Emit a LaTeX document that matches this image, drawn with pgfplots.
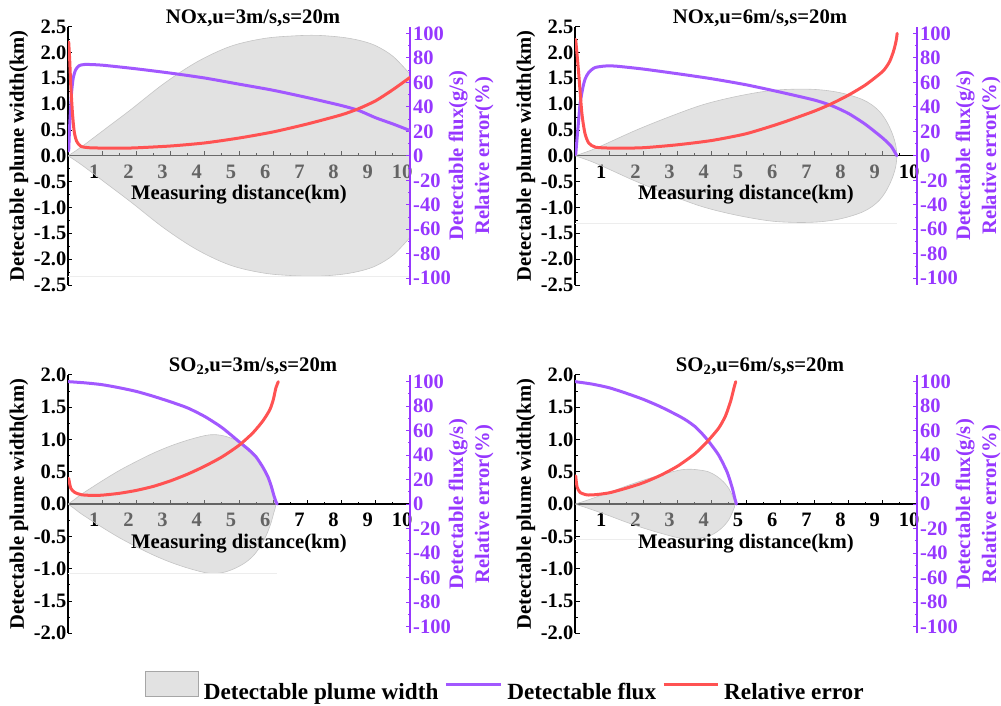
\documentclass[border=0pt]{standalone}
\usepackage{fontspec}
\setmainfont{Liberation Serif}
\usepackage{pgfplots}
\pgfplotsset{compat=1.18}
\definecolor{fluxcol}{RGB}{162,88,255}
\definecolor{errcol}{RGB}{255,82,82}
\definecolor{axcol}{RGB}{150,55,255}
\definecolor{plumefill}{RGB}{198,198,198}
\definecolor{plumeedge}{RGB}{196,196,196}
\pgfplotsset{
  base/.style={scale only axis, width=342pt, height=258.4pt, xmin=0, xmax=10, anchor=south west},
  leftax/.style={base,
    axis x line=middle, axis y line=left,
    x axis line style={-, line width=1.2pt}, y axis line style={-, line width=1.2pt},
    xtick={1,2,3,4,5,6,7,8,9,10}, xticklabels={1,2,3,4,5,6,7,8,9,10},
    minor x tick num=1, minor y tick num=1,
    tick align=inside, major tick length=4.5pt, minor tick length=2.5pt,
    every tick/.style={black, line width=0.9pt},
    hide obscured x ticks=false, hide obscured y ticks=false,
    tick label style={font=\fontsize{20.5}{23}\selectfont\bfseries},
    xticklabel style={anchor=base, yshift=-22.5pt, xshift=-8pt},
    yticklabel style={inner xsep=1.5pt},
    xlabel={Measuring distance(km)}, ylabel={Detectable plume width(km)},
    every axis x label/.style={at={(axis cs:5,0)}, anchor=base, yshift=-44pt, font=\fontsize{20.7}{24}\selectfont\bfseries},
    every axis y label/.style={at={(rel axis cs:-0.1433,0.5)}, rotate=90, anchor=center, font=\fontsize{20.6}{24}\selectfont\bfseries},
    every axis title/.style={at={(0.5,1)}, anchor=base, yshift=3.5pt, xshift=14pt, font=\fontsize{20.7}{24}\selectfont\bfseries},
  },
  topleft/.style={leftax, ymin=-2.5, ymax=2.5,
    ytick={-2.5,-2,-1.5,-1,-0.5,0,0.5,1,1.5,2,2.5},
    yticklabels={-2.5,-2.0,-1.5,-1.0,-0.5,0.0,0.5,1.0,1.5,2.0,2.5}},
  botleft/.style={leftax, ymin=-2, ymax=2,
    ytick={-2,-1.5,-1,-0.5,0,0.5,1,1.5,2},
    yticklabels={-2.0,-1.5,-1.0,-0.5,0.0,0.5,1.0,1.5,2.0}},
  rightax/.style={base, ymin=-105.5, ymax=105.5,
    axis x line=none, axis y line=right,
    y axis line style={-, axcol, line width=1.3pt},
    ytick={-100,-80,-60,-40,-20,0,20,40,60,80,100},
    yticklabels={-100,-80,-60,-40,-20,0,20,40,60,80,100},
    minor y tick num=1,
    tick align=inside, major tick length=4.5pt, minor tick length=2.5pt,
    every tick/.style={axcol, line width=0.9pt},
    tick label style={font=\fontsize{20.5}{23}\selectfont\bfseries, text=axcol},
    yticklabel style={inner xsep=3pt},
    ylabel={Detectable flux(g/s)\\Relative error(\%)},
    every axis y label/.style={at={(rel axis cs:1.1784,0.5)}, rotate=90, anchor=center, align=center, text=axcol, font=\fontsize{20.6}{26}\selectfont\bfseries},
  },
  plume/.style={fill=plumefill, fill opacity=0.51, draw=plumeedge, line width=0.6pt, smooth, tension=0.55},
  plumefillonly/.style={fill=plumefill, fill opacity=0.51, draw=none, smooth, tension=0.55},
  plumeline/.style={draw=plumeedge, line width=0.6pt, smooth, tension=0.55},
  faint/.style={draw=black!7, line width=0.7pt},
  flux/.style={fluxcol, line width=3pt, line join=round, line cap=round, smooth, tension=0.4},
  err/.style={errcol, line width=3pt, line join=round, line cap=round, smooth, tension=0.4},
}
\begin{document}
\begin{tikzpicture}
\path[use as bounding box] (0pt,0pt) rectangle (1001pt,706pt);
% ---------------- Panel A: NOx u=3
\begin{axis}[topleft, at={(68pt,421pt)}, title={NOx,u=3m/s,s=20m}]
\addplot[plumefillonly] coordinates {(0,0) (0.2,0.085) (0.47,0.21) (1.05,0.5) (1.83,0.89) (2.81,1.40) (3.78,1.82) (4.76,2.12) (5.73,2.27) (6.6,2.32) (7.3,2.33) (8.05,2.29) (8.6,2.22) (9.03,2.12) (9.51,1.92) (10,1.58)} \closedcycle;
\addplot[plumefillonly] coordinates {(0,0) (0.2,-0.085) (0.47,-0.21) (1.05,-0.5) (1.83,-0.89) (2.81,-1.40) (3.78,-1.82) (4.76,-2.12) (5.73,-2.27) (6.6,-2.32) (7.3,-2.33) (8.05,-2.29) (8.6,-2.22) (9.03,-2.12) (9.51,-1.92) (10,-1.58)} \closedcycle;
\addplot[plumeline] coordinates {(0,0) (0.2,0.085) (0.47,0.21) (1.05,0.5) (1.83,0.89) (2.81,1.40) (3.78,1.82) (4.76,2.12) (5.73,2.27) (6.6,2.32) (7.3,2.33) (8.05,2.29) (8.6,2.22) (9.03,2.12) (9.51,1.92) (10,1.58)};
\addplot[plumeline] coordinates {(0,0) (0.2,-0.085) (0.47,-0.21) (1.05,-0.5) (1.83,-0.89) (2.81,-1.40) (3.78,-1.82) (4.76,-2.12) (5.73,-2.27) (6.6,-2.32) (7.3,-2.33) (8.05,-2.29) (8.6,-2.22) (9.03,-2.12) (9.51,-1.92) (10,-1.58)};
\addplot[faint] coordinates {(0,-2.33) (10,-2.33)};
\end{axis}
\begin{axis}[rightax, at={(68pt,421pt)}]
\addplot[flux] coordinates {(0.02,4) (0.05,25) (0.1,50) (0.15,63) (0.22,70) (0.32,73.5) (0.5,74.6) (1,74) (2,71) (3,67.5) (4,63.5) (5,58.5) (6,53.5) (7,47.5) (8,41) (8.5,37) (9,31) (9.5,26) (10,20.6)};
\addplot[err] coordinates {(0.02,93) (0.05,78) (0.08,58) (0.13,35) (0.18,20) (0.25,12) (0.37,7.8) (0.6,6.6) (1,6.3) (1.5,6.2) (2,6.5) (3,8) (4,10.5) (5,14.5) (6,19.5) (7,26) (8,33.5) (8.5,38.5) (9,45) (9.5,54) (10,64)};
\end{axis}
% ---------------- Panel B: NOx u=6
\begin{axis}[topleft, at={(575pt,421pt)}, title={NOx,u=6m/s,s=20m}]
\addplot[plume] coordinates {(0,0) (0.4,0.09) (0.83,0.21) (1.8,0.5) (2.78,0.76) (3.75,0.99) (4.73,1.15) (5.7,1.26) (6.5,1.29) (7.1,1.28) (7.6,1.24) (8,1.18) (8.4,1.09) (8.67,0.99) (8.9,0.86) (9.06,0.72) (9.2,0.55) (9.31,0.37) (9.38,0.2) (9.41,0)
 (9.38,-0.2) (9.31,-0.37) (9.2,-0.55) (9.06,-0.72) (8.9,-0.86) (8.67,-0.99) (8.4,-1.09) (8,-1.18) (7.6,-1.24) (7.1,-1.28) (6.5,-1.29) (5.7,-1.26) (4.73,-1.15) (3.75,-0.99) (2.78,-0.76) (1.8,-0.5) (0.83,-0.21) (0.4,-0.09) (0,0)} -- cycle;
\addplot[faint] coordinates {(0,-1.3) (9.41,-1.3)};
\end{axis}
\begin{axis}[rightax, at={(575pt,421pt)}]
\addplot[flux] coordinates {(0.02,1) (0.1,27) (0.15,43) (0.24,57) (0.3,63) (0.4,68) (0.58,72) (0.88,73.3) (1.2,73.2) (2,70.8) (3,67) (4,62.9) (5,58) (6,52) (7,45.5) (7.5,41) (8,34.5) (8.5,25.5) (9,14.4) (9.25,7.6) (9.41,0)};
\addplot[err] coordinates {(0.02,95) (0.1,70) (0.2,35) (0.29,18.4) (0.4,10.5) (0.6,7) (1.17,6.2) (2,6.6) (3,9) (4,12.5) (5,18) (6,26.5) (7,36.5) (7.5,42.5) (8,49.6) (8.5,58) (9,69) (9.2,77) (9.32,86) (9.39,94) (9.42,100)};
\end{axis}
% ---------------- Panel C: SO2 u=3
\begin{axis}[botleft, at={(68pt,72.7pt)}, title={SO\textsubscript{2},u=3m/s,s=20m},
  legend style={at={(1.279,-0.2079)}, anchor=center, draw=none, fill=none, legend columns=-1,
    font=\fontsize{23.2}{26}\selectfont\bfseries,
    /tikz/every odd column/.append style={column sep=3pt},
    /tikz/every even column/.append style={column sep=4pt}},
  legend cell align=left]
\addplot[plume, forget plot] coordinates {(0,0) (0.2,0.075) (0.4,0.155) (1,0.36) (1.5,0.52) (2,0.66) (2.5,0.79) (3,0.9) (3.5,0.99) (4,1.06) (4.3,1.075) (4.6,1.05) (4.9,0.99) (5.2,0.9) (5.45,0.78) (5.65,0.63) (5.8,0.48) (5.93,0.3) (6.02,0.13) (6.08,0)
 (6.02,-0.13) (5.93,-0.3) (5.8,-0.48) (5.65,-0.63) (5.45,-0.78) (5.2,-0.9) (4.9,-0.99) (4.6,-1.05) (4.3,-1.075) (4,-1.06) (3.5,-0.99) (3,-0.9) (2.5,-0.79) (2,-0.66) (1.5,-0.52) (1,-0.36) (0.4,-0.155) (0.2,-0.075) (0,0)} -- cycle;
\addplot[faint, forget plot] coordinates {(0,-1.07) (6.1,-1.07)};
\addlegendimage{legend image code/.code={\draw[fill=plumefill, fill opacity=0.51, draw=black!35, line width=0.6pt] (0pt,-5pt) rectangle (53pt,20pt);}}
\addlegendentry{Detectable plume width}
\addlegendimage{legend image code/.code={\draw[fluxcol, line width=3pt] (0pt,7pt) -- (55pt,7pt);}}
\addlegendentry{Detectable flux}
\addlegendimage{legend image code/.code={\draw[errcol, line width=3pt] (0pt,7pt) -- (54pt,7pt);}}
\addlegendentry{Relative error}
\end{axis}
\begin{axis}[rightax, at={(68pt,72.7pt)}]
\addplot[flux] coordinates {(0,100) (0.5,99) (1,97.5) (1.5,95) (2,92) (2.5,88) (3,83.5) (3.5,78.5) (4,71.5) (4.5,62.5) (5,51) (5.3,44) (5.5,38.5) (5.7,30) (5.85,22) (5.95,14) (6.02,7) (6.08,2) (6.12,0)};
\addplot[err] coordinates {(0.02,21) (0.08,13) (0.2,9.5) (0.4,7.6) (0.7,7.1) (1,7.3) (1.5,8.8) (2,11.2) (2.5,14.5) (3,19) (3.5,24.5) (4,31) (4.5,38.5) (5,48) (5.4,58) (5.7,68) (5.9,77) (6,85) (6.08,95) (6.15,100)};
\end{axis}
% ---------------- Panel D: SO2 u=6
\begin{axis}[botleft, at={(575pt,72.7pt)}, title={SO\textsubscript{2},u=6m/s,s=20m}]
\addplot[plume] coordinates {(0,0) (0.3,0.05) (0.68,0.12) (1,0.18) (1.5,0.28) (2,0.37) (2.5,0.45) (3,0.52) (3.3,0.54) (3.6,0.53) (3.9,0.5) (4.15,0.43) (4.35,0.34) (4.5,0.24) (4.6,0.13) (4.66,0.05) (4.68,0)
 (4.66,-0.05) (4.6,-0.13) (4.5,-0.24) (4.35,-0.34) (4.15,-0.43) (3.9,-0.5) (3.6,-0.53) (3.3,-0.54) (3,-0.52) (2.5,-0.45) (2,-0.37) (1.5,-0.28) (1,-0.18) (0.68,-0.12) (0.3,-0.05) (0,0)} -- cycle;
\addplot[faint] coordinates {(0,-0.55) (4.68,-0.55)};
\end{axis}
\begin{axis}[rightax, at={(575pt,72.7pt)}]
\addplot[flux] coordinates {(0,100) (0.5,98) (1,95) (1.5,90.5) (2,85.5) (2.5,79.5) (3,72.5) (3.25,68.5) (3.5,63.5) (3.7,58) (3.9,51.5) (4.2,40) (4.45,26) (4.6,13) (4.67,5) (4.72,0)};
\addplot[err] coordinates {(0.02,23) (0.06,14) (0.15,9.5) (0.35,7.5) (0.6,7.7) (1,9.2) (1.5,13) (2,17.5) (2.5,23.5) (3,31) (3.5,41) (3.85,50.5) (4.2,62) (4.4,72) (4.55,84) (4.65,95) (4.7,100)};
\end{axis}
\end{tikzpicture}
\end{document}
